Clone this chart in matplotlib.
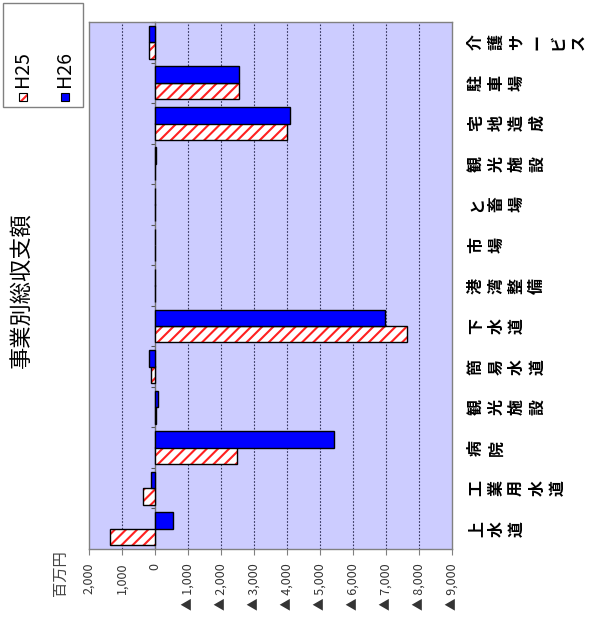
import matplotlib
matplotlib.use("Agg")
import matplotlib.pyplot as plt
from matplotlib.patches import Rectangle
import numpy as np

plt.rcParams['font.family'] = ['Noto Sans CJK JP', 'DejaVu Sans']
plt.rcParams['hatch.linewidth'] = 1.5

# Data (bottom to top in the picture)
categories = ['上水道', '工業用水道', '病院', '観光施設', '簡易水道', '下水道',
              '港湾整備', '市場', 'と畜場', '観光施設', '宅地造成', '駐車場', '介護サービス']
h25 = [1360, 350, -2470, -30, 130, -7650, -15, -15, 0, -10, -3990, -2550, 170]
h26 = [-540, 120, -5420, -100, 170, -6970, -15, -15, 0, -30, -4090, -2560, 180]
series_names = ['H25', 'H26']
xticks = [2000, 1000, 0, -1000, -2000, -3000, -4000, -5000, -6000, -7000, -8000, -9000]
xtick_labels = ['2,000', '1,000', '0', '▲ 1,000', '▲ 2,000', '▲ 3,000', '▲ 4,000',
                '▲ 5,000', '▲ 6,000', '▲ 7,000', '▲ 8,000', '▲ 9,000']
title = '事業別総収支額'
unit = '百万円'

W, H = 591, 622
fig = plt.figure(figsize=(W / 100, H / 100), dpi=100)
fig.patch.set_facecolor('white')

def fx(px):
    return px / W

def fy(py):
    return 1 - py / H

ax = fig.add_axes([fx(89), fy(549), fx(452) - fx(89), fy(22) - fy(549)])
ax.set_facecolor('#CCCCFF')

y = np.arange(len(categories))
bh = 0.41
# H25: white with red diagonal hatch, black outline
ax.barh(y - 0.2, h25, height=bh, color='white', edgecolor='#FF2020', hatch='///',
        linewidth=0, zorder=3)
ax.barh(y - 0.2, h25, height=bh, fill=False, edgecolor='black', linewidth=1.0, zorder=4)
# H26: solid blue
ax.barh(y + 0.2, h26, height=bh, color='#0000FF', edgecolor='black', linewidth=1.0, zorder=4)

ax.set_xlim(2000, -9000)
ax.set_ylim(-0.5, len(categories) - 0.5)

# grid
ax.set_xticks(xticks)
ax.set_xticklabels(xtick_labels, rotation=90, fontsize=9, color='#333333')
ax.tick_params(axis='x', direction='out', length=4, width=0.8, color='#808080', pad=6)
for v in xticks[1:-1]:
    if v != 0:
        ax.axvline(v, color='#33335A', linestyle=(0, (1.5, 1.5)), linewidth=0.8, zorder=1)

# category labels on the right, characters stacked
ax.yaxis.tick_right()
ax.set_yticks(y)
ax.set_yticklabels(['\n'.join(c) for c in categories], rotation=90, fontsize=11.5,
                   fontweight='bold', ha='left', va='center', linespacing=1.34)
ax.tick_params(axis='y', length=0, pad=11.5)

for s in ax.spines.values():
    s.set_color('#808080')
    s.set_linewidth(1.0)

# category axis at zero
frac0 = (2000 - 0) / (2000 - (-9000))
sec = ax.secondary_yaxis(frac0)
sec.set_yticks(np.arange(-0.5, len(categories), 1.0))
sec.set_yticklabels([])
sec.tick_params(axis='y', direction='out', length=3, width=0.8, color='#555555')
sec.spines['left'].set_color('#707070')
sec.spines['left'].set_linewidth(1.0)

# title and unit
fig.text(fx(22), fy(290), title, rotation=90, fontsize=16, ha='center', va='center')
fig.text(fx(60), fy(550), unit, rotation=90, fontsize=11, ha='center', va='top', color='#444444')

# legend box
fig.add_artist(Rectangle((fx(3), fy(107)), fx(83) - fx(3), fy(3) - fy(107),
                         transform=fig.transFigure, facecolor='white', edgecolor='#808080',
                         linewidth=1.0))
leg_x = [23, 65]
for i, name in enumerate(series_names):
    cx = leg_x[i]
    if i == 0:
        fig.add_artist(Rectangle((fx(cx - 4), fy(101)), fx(8), fy(93) - fy(101),
                                 transform=fig.transFigure, facecolor='white',
                                 edgecolor='#FF2020', hatch='///', linewidth=0))
        fig.add_artist(Rectangle((fx(cx - 4), fy(101)), fx(8), fy(93) - fy(101),
                                 transform=fig.transFigure, fill=False,
                                 edgecolor='black', linewidth=0.8))
    else:
        fig.add_artist(Rectangle((fx(cx - 4), fy(101)), fx(8), fy(93) - fy(101),
                                 transform=fig.transFigure, facecolor='#0000FF',
                                 edgecolor='black', linewidth=0.8))
    fig.text(fx(cx), fy(87), name, rotation=90, fontsize=14, ha='center', va='bottom')

fig.savefig('out.png', dpi=100)
